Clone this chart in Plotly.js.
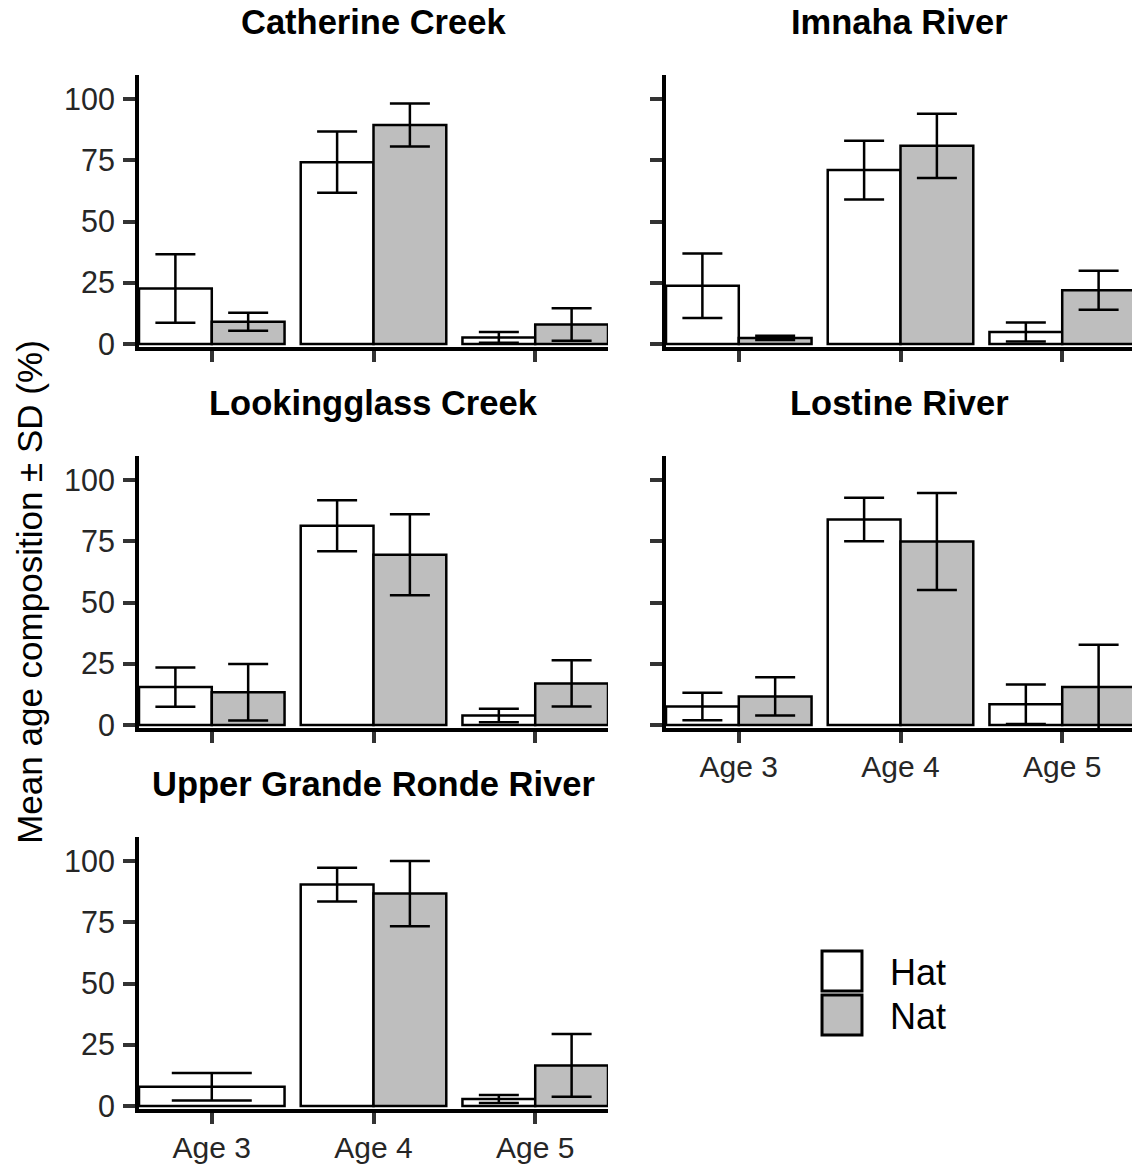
<!DOCTYPE html>
<html>
<head>
<meta charset="utf-8">
<script src="https://cdn.plot.ly/plotly-3.0.1.min.js"></script>
<style>html,body{margin:0;padding:0;background:#fff;}#chart{width:1132px;height:1164px;}</style>
</head>
<body>
<div id="chart"></div>
<script>
// ---- data ----
const ages = ['Age 3', 'Age 4', 'Age 5'];
const panels = ['Catherine Creek', 'Imnaha River', 'Lookingglass Creek', 'Lostine River', 'Upper Grande Ronde River'];
const seriesNames = ['Hat', 'Nat'];
// mean age composition (%) per panel, per age
const hatMean = [
  [22.7, 74.2, 2.7],
  [23.8, 71.0, 4.9],
  [15.5, 81.3, 3.9],
  [7.6, 83.9, 8.5],
  [7.9, 90.4, 2.9]
];
const hatSD = [
  [14.0, 12.5, 2.2],
  [13.2, 12.0, 3.9],
  [8.0, 10.4, 2.75],
  [5.6, 8.9, 8.1],
  [5.6, 6.9, 1.65]
];
const natMean = [
  [9.1, 89.4, 8.0],
  [2.5, 80.9, 22.0],
  [13.4, 69.5, 17.0],
  [11.7, 74.9, 15.5],
  [null, 86.7, 16.6]
];
const natSD = [
  [3.7, 8.8, 6.6],
  [0.85, 13.1, 7.95],
  [11.5, 16.5, 9.45],
  [7.8, 19.75, 17.3],
  [null, 13.3, 12.8]
];
const yTicks = [0, 25, 50, 75, 100];
const yTitle = 'Mean age composition ± SD (%)';

// ---- layout helpers ----
const W = 1132, H = 1164;
const fx = px => px / W;
const fy = px => 1 - px / H;
const FONT = 'Liberation Sans, Arial, sans-serif';
const fills = ['#FFFFFF', '#BEBEBE'];
const means = [hatMean, natMean];
const sds = [hatSD, natSD];

const colDom = [[139, 608], [666, 1132]];
const rowDom = [[75, 347], [456, 728], [837, 1109]];
const pxPerUnit = (608 - 139) / 2.9;

const traces = [];
const layout = {
  width: W, height: H,
  margin: {l: 0, r: 0, t: 0, b: 0},
  paper_bgcolor: '#fff', plot_bgcolor: 'rgba(0,0,0,0)',
  barmode: 'overlay',
  font: {family: FONT, color: '#000'},
  showlegend: true,
  legend: {
    x: fx(794), y: fy(944), xanchor: 'left', yanchor: 'top',
    font: {size: 36, family: FONT, color: '#000'},
    itemwidth: 86, bgcolor: 'rgba(0,0,0,0)', borderwidth: 0,
    traceorder: 'normal', tracegroupgap: 0
  },
  annotations: [],
  shapes: []
};

panels.forEach((name, i) => {
  const row = Math.floor(i / 2), col = i % 2;
  const n = i + 1;
  const xa = 'xaxis' + (n === 1 ? '' : n);
  const ya = 'yaxis' + (n === 1 ? '' : n);
  const xr = 'x' + (n === 1 ? '' : n);
  const yr = 'y' + (n === 1 ? '' : n);
  const cd = colDom[col], rd = rowDom[row];
  const xmax = 0.55 + (cd[1] - cd[0]) / pxPerUnit;
  const showX = (i === 3 || i === 4);
  layout[xa] = {
    domain: [fx(cd[0]), fx(cd[1])],
    range: [0.55, xmax],
    anchor: yr,
    tickmode: 'array', tickvals: [1, 2, 3], ticktext: ages,
    showticklabels: showX,
    ticks: 'outside', ticklen: 11, tickwidth: 4, tickcolor: '#333333',
    showline: true, linewidth: 4, linecolor: '#000',
    showgrid: false, zeroline: false, fixedrange: true,
    tickfont: {size: 30, family: FONT, color: '#262626'},
    ticklabelstandoff: -2
  };
  layout[ya] = {
    domain: [fy(rd[1]), fy(rd[0])],
    range: [-1.2, 109.8],
    anchor: xr,
    tickmode: 'array', tickvals: yTicks,
    showticklabels: col === 0,
    ticks: 'outside', ticklen: 12, tickwidth: 4, tickcolor: '#333333',
    showline: true, linewidth: 4, linecolor: '#000',
    showgrid: false, zeroline: false, fixedrange: true,
    tickfont: {size: 30.5, family: FONT, color: '#262626'},
    ticklabelstandoff: 2
  };
  if (i === 2) {
    layout[ya].title = {text: yTitle, font: {size: 35, family: FONT, color: '#000'}, standoff: 12};
  }
  layout.annotations.push({
    text: name, xref: 'paper', yref: 'paper',
    x: fx((cd[0] + Math.min(cd[1], cd[0] + 2.9 * pxPerUnit)) / 2), y: fy(rd[0] - 53),
    xanchor: 'center', yanchor: 'middle', showarrow: false,
    font: {size: 34.5, family: FONT, color: '#000', weight: 'bold'}
  });

  [0, 1].forEach(s => {
    ages.forEach((age, j) => {
      const v = means[s][i][j];
      if (v === null || v === undefined) return;
      const other = means[1 - s][i][j];
      const alone = (other === null || other === undefined);
      const width = alone ? 0.9 : 0.45;
      const offset = alone ? -0.45 : (s === 0 ? -0.45 : 0);
      traces.push({
        type: 'bar',
        x: [j + 1], y: [v],
        xaxis: xr, yaxis: yr,
        width: [width], offset: [offset],
        name: seriesNames[s],
        legendgroup: seriesNames[s],
        showlegend: (i === 0 && j === 0),
        marker: {color: fills[s], line: {color: '#000', width: 2.5}},
        error_y: {
          type: 'data', symmetric: true, array: [sds[s][i][j]],
          color: '#000', thickness: 2.5, width: alone ? 40 : 20
        },
        hoverinfo: 'skip'
      });
    });
  });
});

Plotly.newPlot('chart', traces, layout, {staticPlot: true, displayModeBar: false}).then(gd => {
  gd.querySelectorAll('.legend .legendpoints path').forEach(p => {
    const t = p.getAttribute('transform') || '';
    p.setAttribute('transform', t + ' scale(3.33)');
    p.style.vectorEffect = 'non-scaling-stroke';
    p.style.strokeWidth = '3px';
  });
  // tighten legend rows to the reference spacing (~44px)
  const items = Array.from(gd.querySelectorAll('.legend .traces'));
  let y0 = null;
  items.forEach((g, k) => {
    const m = /translate\(\s*([-\d.]+)[ ,]+([-\d.]+)\s*\)/.exec(g.getAttribute('transform') || '');
    if (!m) return;
    const x = parseFloat(m[1]), y = parseFloat(m[2]);
    if (y0 === null) y0 = y;
    g.setAttribute('transform', 'translate(' + x + ',' + (y0 - 3 + k * 44) + ')');
  });
});
</script>
</body>
</html>
